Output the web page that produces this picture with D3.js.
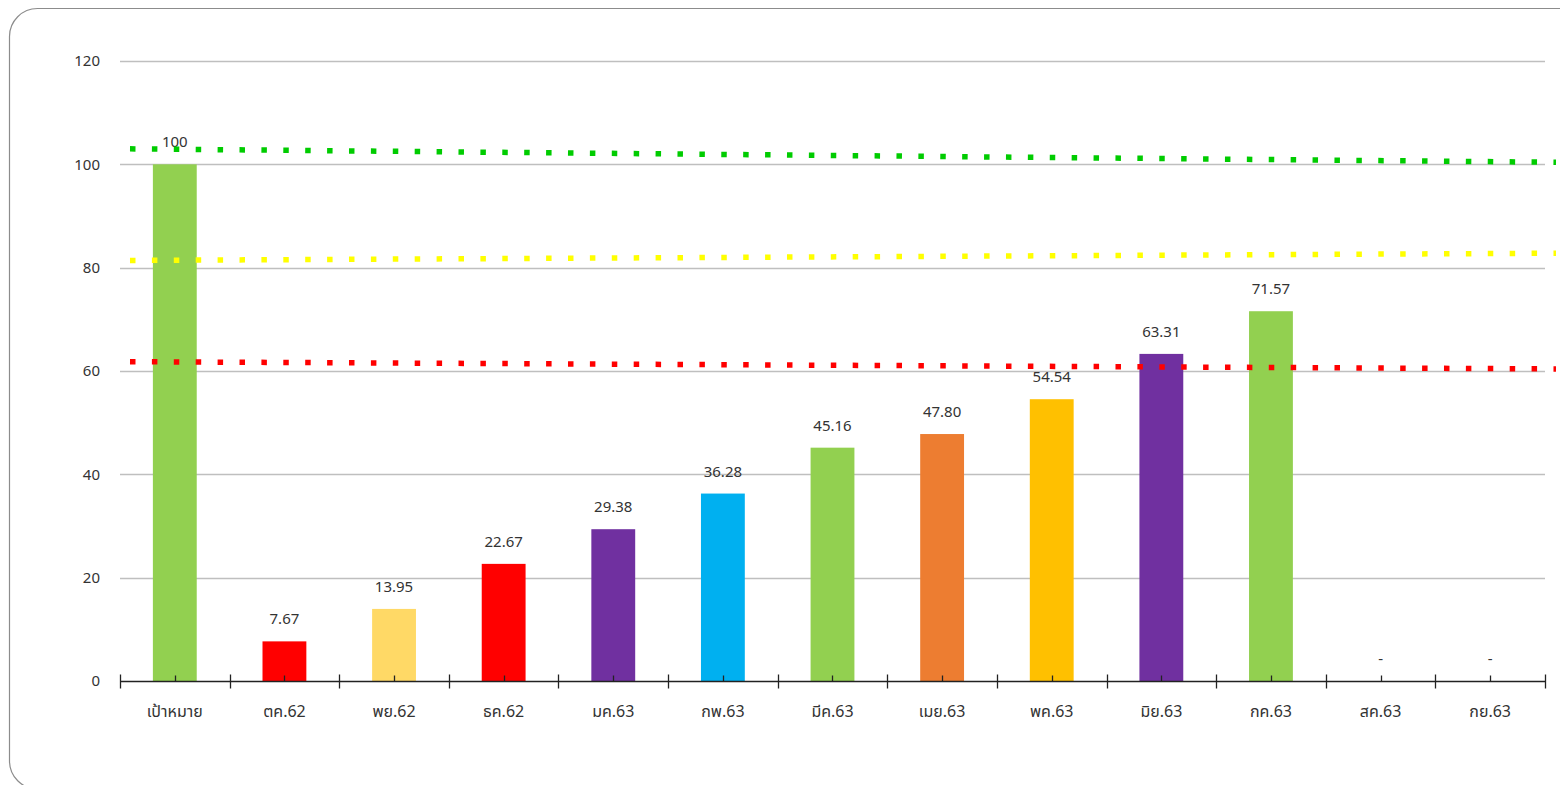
<!DOCTYPE html>
<html>
<head>
<meta charset="utf-8">
<script src="https://cdn.jsdelivr.net/npm/d3@7"></script>
<style>
  body { margin: 0; background: #fff; }
  svg text { font-family: "Noto Sans", "Noto Sans Thai", "DejaVu Sans", sans-serif; fill: #333; }
</style>
</head>
<body>
<div id="chart-area"></div>
<script>
const months = ['เป้าหมาย', 'ตค.62', 'พย.62', 'ธค.62', 'มค.63', 'กพ.63', 'มีค.63', 'เมย.63', 'พค.63', 'มิย.63', 'กค.63', 'สค.63', 'กย.63'];
const values = [100, 7.67, 13.95, 22.67, 29.38, 36.28, 45.16, 47.80, 54.54, 63.31, 71.57, null, null];
const barColors = ['#92D050', '#FF0000', '#FFD966', '#FF0000', '#7030A0', '#00B0F0', '#92D050', '#ED7D31', '#FFC000', '#7030A0', '#92D050', '#92D050', '#92D050'];
const yTicks = [0, 20, 40, 60, 80, 100, 120];

// dotted level lines: value at left end, value at right end
const levelLines = [
  { name: 'green', color: '#00CC00', values: [103.0, 100.4] },
  { name: 'yellow', color: '#FFFF00', values: [81.4, 82.8] },
  { name: 'red', color: '#FF0000', values: [61.8, 60.4] }
];

const chartSize = { width: 1560, height: 785 };
const margin = { left: 120, right: 15, top: 61, bottom: 104 };
const width = chartSize.width - (margin.left + margin.right);
const height = chartSize.height - (margin.top + margin.bottom);

const svg = d3.select('#chart-area').append('svg')
  .attr('width', chartSize.width)
  .attr('height', chartSize.height);

// rounded frame
svg.append('rect')
  .attr('x', 9.5).attr('y', 8.5)
  .attr('width', 1600).attr('height', 780.5)
  .attr('rx', 28).attr('ry', 28)
  .attr('fill', 'none')
  .attr('stroke', '#8c8c8c')
  .attr('stroke-width', 1.2);

const g = svg.append('g')
  .attr('transform', `translate(${margin.left},${margin.top})`);

const y = d3.scaleLinear().domain([0, 120]).range([height, 0]);
const x = d3.scaleBand().domain(months).range([0, width]).paddingInner(0.6).paddingOuter(0.3);
const band = width / months.length;

// grid
g.append('g').attr('class', 'grid')
  .selectAll('line')
  .data(yTicks.filter(d => d > 0))
  .join('line')
  .attr('x1', 0).attr('x2', width)
  .attr('y1', d => Math.round(y(d)) + 0.5).attr('y2', d => Math.round(y(d)) + 0.5)
  .attr('stroke', '#bfbfbf')
  .attr('stroke-width', 1.3);

// y labels
g.append('g').selectAll('text')
  .data(yTicks)
  .join('text')
  .attr('x', -20)
  .attr('y', d => y(d))
  .attr('dy', '0.35em')
  .attr('text-anchor', 'end')
  .attr('font-size', 15)
  .text(d => d);

// bars
g.append('g').selectAll('rect')
  .data(months.map((m, i) => ({ m, v: values[i], c: barColors[i] })).filter(d => d.v != null))
  .join('rect')
  .attr('x', d => x(d.m))
  .attr('width', x.bandwidth())
  .attr('y', d => y(d.v))
  .attr('height', d => y(0) - y(d.v))
  .attr('fill', d => d.c);

// value labels
g.append('g').selectAll('text')
  .data(months.map((m, i) => ({ m, v: values[i] })))
  .join('text')
  .attr('x', d => x(d.m) + x.bandwidth() / 2)
  .attr('y', d => y(d.v == null ? 0 : d.v) - 17)
  .attr('text-anchor', 'middle')
  .attr('font-size', 15)
  .text(d => d.v == null ? '-' : (d.v === 100 ? '100' : d.v.toFixed(2)));

// x axis
const axisY = Math.round(y(0)) + 0.5;
const xAxis = g.append('g').attr('class', 'x axis');
xAxis.append('line')
  .attr('x1', 0).attr('x2', width)
  .attr('y1', axisY).attr('y2', axisY)
  .attr('stroke', '#222').attr('stroke-width', 1.5);
xAxis.selectAll('.major')
  .data(d3.range(months.length + 1))
  .join('line')
  .attr('class', 'major')
  .attr('x1', i => Math.round(i * band) + 0.5).attr('x2', i => Math.round(i * band) + 0.5)
  .attr('y1', axisY - 7).attr('y2', axisY + 7)
  .attr('stroke', '#222').attr('stroke-width', 1.3);
xAxis.selectAll('.minor')
  .data(months)
  .join('line')
  .attr('class', 'minor')
  .attr('x1', d => Math.round(x(d) + x.bandwidth() / 2) + 0.5)
  .attr('x2', d => Math.round(x(d) + x.bandwidth() / 2) + 0.5)
  .attr('y1', axisY - 6).attr('y2', axisY)
  .attr('stroke', '#222').attr('stroke-width', 1.3);
xAxis.selectAll('text')
  .data(months)
  .join('text')
  .attr('x', d => x(d) + x.bandwidth() / 2)
  .attr('y', axisY + 35)
  .attr('text-anchor', 'middle')
  .attr('font-size', 16)
  .text(d => d);

// dotted level lines, drawn over the bars
const lineX0 = 10, lineX1 = width + 11;
const lineGen = d3.line()
  .x((d, i) => i === 0 ? lineX0 : lineX1)
  .y(d => y(d));
g.append('g').selectAll('path')
  .data(levelLines)
  .join('path')
  .attr('d', d => lineGen(d.values))
  .attr('fill', 'none')
  .attr('stroke', d => d.color)
  .attr('stroke-width', 5.5)
  .attr('stroke-dasharray', '5.5 16.4');
</script>
</body>
</html>
